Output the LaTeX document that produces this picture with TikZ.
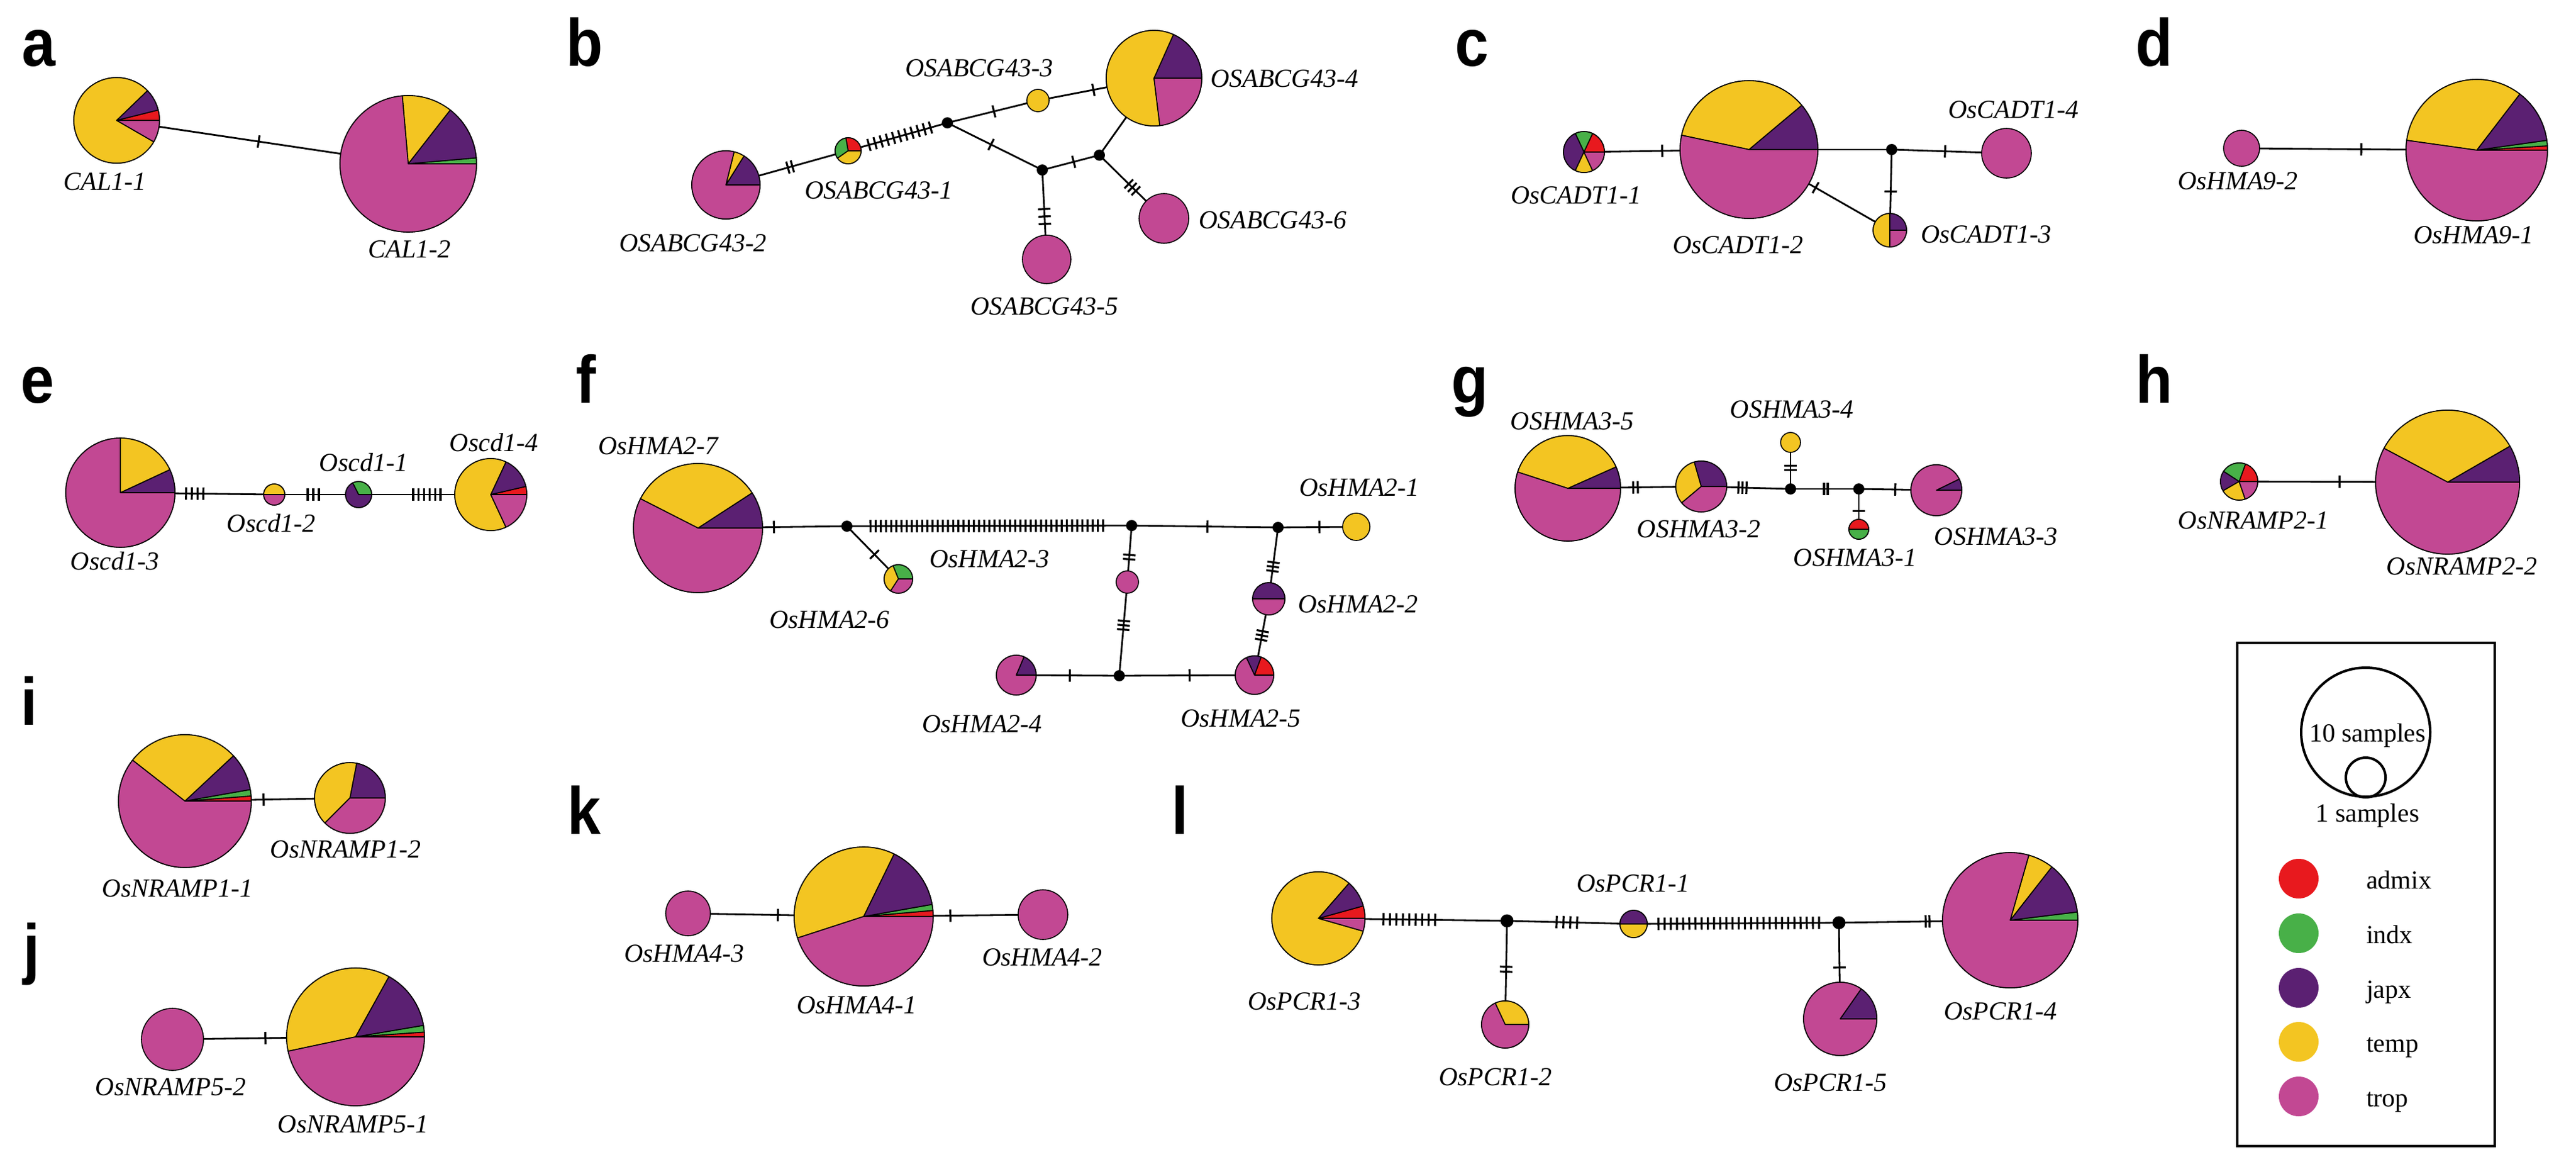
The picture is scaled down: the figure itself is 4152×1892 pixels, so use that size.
\documentclass[tikz,border=0pt]{standalone}
\usepackage{fontspec}
\setmainfont{Liberation Serif}
\newfontfamily\panelfont[FakeStretch=0.9]{Liberation Sans}
\usetikzlibrary{decorations.markings}
\definecolor{admixC}{HTML}{E8191E}
\definecolor{indxC}{HTML}{48B048}
\definecolor{japxC}{HTML}{5B2072}
\definecolor{tempC}{HTML}{F3C522}
\definecolor{tropC}{HTML}{C24893}
\pgfdeclarelayer{bg}
\pgfdeclarelayer{edges}
\pgfsetlayers{bg,edges,main}
\tikzset{
  hap/.style={circle, draw=black, line width=1.6pt, inner sep=0pt, minimum size=#1},
  jn/.style={circle, fill=black, inner sep=0pt, minimum size=18pt},
  edge/.style={line width=2.8pt},
  mk/.style={postaction={decorate, decoration={markings, mark=at position #1 with {\fill (-1.6pt,-10pt) rectangle (1.6pt,10pt);}}}},
  mks/.style n args={3}{postaction={decorate, decoration={markings, mark=between positions #1 and #2 step #3 with {\fill (-1.6pt,-10pt) rectangle (1.6pt,10pt);}}}},
  lab/.style={inner sep=0pt, anchor=base, font=\fontsize{42}{50}\selectfont\itshape},
  leg/.style={inner sep=0pt, anchor=base, font=\fontsize{42}{50}\selectfont},
  plab/.style={inner sep=0pt, anchor=base west, font=\panelfont\bfseries\fontsize{108}{120}\selectfont},
  legdot/.style={circle, inner sep=0pt, minimum size=64pt, fill=#1},
}
\newcommand\hpie[3]{\foreach \angA/\angB/\colr in {#3}{\filldraw[fill=\colr, draw=black, line width=1.6pt, line join=round] (#1.center) -- ++(\angA:#2pt) arc[start angle=\angA, end angle=\angB, radius=#2pt] -- cycle;}}
\begin{document}
\begin{tikzpicture}[x=1pt,y=-1pt]
\begin{pgfonlayer}{bg}
\fill[white] (0,0) rectangle (4152,1892);
\end{pgfonlayer}
\useasboundingbox (0,0) rectangle (4152,1892);

% panel letters
\node[plab] (pa) at (35,107) {a};
\node[plab] (pb) at (912,107) {b};
\node[plab] (pc) at (2345,107) {c};
\node[plab] (pd) at (3442,107) {d};
\node[plab] (pe) at (33,649) {e};
\node[plab] (pf) at (928,649) {f};
\node[plab] (pg) at (2339,649) {g};
\node[plab] (ph) at (3442,649) {h};
\node[plab] (pi) at (33,1168) {i};
\node[plab] (pj) at (37,1565) {j};
\node[plab] (pk) at (914,1344) {k};
\node[plab] (pl) at (1888,1344) {l};

% ---------- a
\node[hap=138pt] (a1) at (188,194) {};
\hpie{a1}{69}{0/14/admixC,14/44/japxC,44/330/tempC,330/360/tropC}
\node[hap=220pt] (a2) at (658,264) {};
\hpie{a2}{110}{0/5/indxC,5/52/japxC,52/95/tempC,95/360/tropC}
\node[lab] (a1l) at (169,306) {CAL1-1};
\node[lab] (a2l) at (660,415) {CAL1-2};

% ---------- b
\node[hap=110pt] (b2) at (1170,298) {};
\hpie{b2}{55}{0/58/japxC,58/76/tempC,76/360/tropC}
\node[hap=42pt] (b1) at (1367,243) {};
\hpie{b1}{21}{0/100/admixC,100/215/indxC,215/360/tempC}
\node[hap=36pt, fill=tempC] (b3) at (1673,162) {};
\node[hap=154pt] (b4) at (1860,126) {};
\hpie{b4}{77}{0/66/japxC,66/277/tempC,277/360/tropC}
\node[jn] (bj1) at (1527,198) {};
\node[jn] (bj2) at (1680,274) {};
\node[jn] (bj3) at (1772,250) {};
\node[hap=78pt, fill=tropC] (b5) at (1687,418) {};
\node[hap=80pt, fill=tropC] (b6) at (1876,352) {};
\node[lab] (b3l) at (1578,124) {OSABCG43-3};
\node[lab, anchor=base west] (b4l) at (1951,141) {OSABCG43-4};
\node[lab] (b1l) at (1416,320) {OSABCG43-1};
\node[lab] (b2l) at (1117,405) {OSABCG43-2};
\node[lab] (b5l) at (1683,507) {OSABCG43-5};
\node[lab, anchor=base west] (b6l) at (1932,368) {OSABCG43-6};

% ---------- c
\node[hap=66pt] (c1) at (2553,245) {};
\hpie{c1}{33}{0/65/admixC,65/115/indxC,115/245/japxC,245/295/tempC,295/360/tropC}
\node[hap=222pt] (c2) at (2819,241) {};
\hpie{c2}{111}{0/40/japxC,40/168/tempC,168/360/tropC}
\node[jn] (cj) at (3049,241) {};
\node[hap=80pt, fill=tropC] (c4) at (3234,247) {};
\node[hap=54pt] (c3) at (3046,371) {};
\hpie{c3}{27}{0/90/japxC,90/270/tempC,270/360/tropC}
\node[lab] (c1l) at (2540,328) {OsCADT1-1};
\node[lab] (c2l) at (2801,408) {OsCADT1-2};
\node[lab] (c4l) at (3245,190) {OsCADT1-4};
\node[lab, anchor=base west] (c3l) at (3096,391) {OsCADT1-3};

% ---------- d
\node[hap=58pt, fill=tropC] (d2) at (3613,239) {};
\node[hap=228pt] (d1) at (3992,242) {};
\hpie{d1}{114}{0/3.5/admixC,3.5/8/indxC,8/52.5/japxC,52.5/172/tempC,172/360/tropC}
\node[lab] (d2l) at (3607,305) {OsHMA9-2};
\node[lab] (d1l) at (3987,392) {OsHMA9-1};

% ---------- e
\node[hap=176pt] (e3) at (194,794) {};
\hpie{e3}{88}{0/25/japxC,25/90/tempC,90/360/tropC}
\node[hap=34pt] (e2) at (442,797) {};
\hpie{e2}{17}{0/180/tempC,180/360/tropC}
\node[hap=42pt] (e1) at (578,797) {};
\hpie{e1}{21}{0/117/indxC,117/360/japxC}
\node[hap=116pt] (e4) at (791,797) {};
\hpie{e4}{58}{0/13/admixC,13/65/japxC,65/295/tempC,295/360/tropC}
\node[lab] (e3l) at (185,918) {Oscd1-3};
\node[lab] (e2l) at (437,857) {Oscd1-2};
\node[lab] (e1l) at (586,759) {Oscd1-1};
\node[lab] (e4l) at (796,727) {Oscd1-4};

% ---------- f
\node[hap=208pt] (f7) at (1125,851) {};
\hpie{f7}{104}{0/33/japxC,33/153/tempC,153/360/tropC}
\node[jn] (fj1) at (1365,848) {};
\node[hap=46pt] (f6) at (1448,933) {};
\hpie{f6}{23}{0/112/indxC,112/237/tempC,237/360/tropC}
\node[jn] (fj2) at (1824,847) {};
\node[jn] (fj3) at (2060,850) {};
\node[hap=44pt, fill=tempC] (f1) at (2186,849) {};
\node[hap=36pt, fill=tropC] (f3) at (1817,938) {};
\node[hap=52pt] (f2) at (2045,965) {};
\hpie{f2}{26}{0/180/japxC,180/360/tropC}
\node[jn] (fj4) at (1804,1089) {};
\node[hap=64pt] (f4) at (1638,1088) {};
\hpie{f4}{32}{0/67/japxC,67/360/tropC}
\node[hap=62pt] (f5) at (2022,1088) {};
\hpie{f5}{31}{0/70/admixC,70/115/japxC,115/360/tropC}
\node[lab] (f7l) at (1061,732) {OsHMA2-7};
\node[lab] (f6l) at (1337,1012) {OsHMA2-6};
\node[lab] (f3l) at (1595,914) {OsHMA2-3};
\node[lab] (f1l) at (2191,799) {OsHMA2-1};
\node[lab, anchor=base west] (f2l) at (2092,987) {OsHMA2-2};
\node[lab] (f4l) at (1583,1180) {OsHMA2-4};
\node[lab] (f5l) at (2000,1171) {OsHMA2-5};

% ---------- g
\node[hap=170pt] (g5) at (2527,787) {};
\hpie{g5}{85}{0/24/japxC,24/162/tempC,162/360/tropC}
\node[hap=82pt] (g2) at (2742,784) {};
\hpie{g2}{41}{0/106/japxC,106/220/tempC,220/360/tropC}
\node[jn] (gj1) at (2886,788) {};
\node[jn] (gj2) at (2996,788) {};
\node[hap=32pt, fill=tempC] (g4) at (2886,713) {};
\node[hap=32pt] (g1) at (2996,853) {};
\hpie{g1}{16}{0/180/admixC,180/360/indxC}
\node[hap=82pt] (g3) at (3121,790) {};
\hpie{g3}{41}{0/26/japxC,26/360/tropC}
\node[lab] (g5l) at (2534,692) {OSHMA3-5};
\node[lab] (g4l) at (2888,673) {OSHMA3-4};
\node[lab] (g2l) at (2738,866) {OSHMA3-2};
\node[lab] (g1l) at (2990,912) {OSHMA3-1};
\node[lab] (g3l) at (3217,878) {OSHMA3-3};

% ---------- h
\node[hap=60pt] (h1) at (3609,776) {};
\hpie{h1}{30}{0/70/admixC,70/147/indxC,147/210/japxC,210/289/tempC,289/360/tropC}
\node[hap=232pt] (h2) at (3945,777) {};
\hpie{h2}{116}{0/30/japxC,30/152/tempC,152/360/tropC}
\node[lab] (h1l) at (3632,852) {OsNRAMP2-1};
\node[lab] (h2l) at (3968,926) {OsNRAMP2-2};

% ---------- i
\node[hap=214pt] (i1) at (298,1291) {};
\hpie{i1}{107}{0/4.4/admixC,4.4/10/indxC,10/43/japxC,43/142/tempC,142/360/tropC}
\node[hap=114pt] (i2) at (564,1286) {};
\hpie{i2}{57}{0/79/japxC,79/225/tempC,225/360/tropC}
\node[lab] (i1l) at (286,1445) {OsNRAMP1-1};
\node[lab] (i2l) at (557,1382) {OsNRAMP1-2};

% ---------- j
\node[hap=100pt, fill=tropC] (j2) at (278,1675) {};
\node[hap=222pt] (j1) at (573,1671) {};
\hpie{j1}{111}{0/4/admixC,4/9.6/indxC,9.6/61/japxC,61/192/tempC,192/360/tropC}
\node[lab] (j2l) at (275,1765) {OsNRAMP5-2};
\node[lab] (j1l) at (569,1825) {OsNRAMP5-1};

% ---------- k
\node[hap=72pt, fill=tropC] (k3) at (1109,1472) {};
\node[hap=224pt] (k1) at (1392,1477) {};
\hpie{k1}{112}{0/5/admixC,5/10/indxC,10/64/japxC,64/198/tempC,198/360/tropC}
\node[hap=80pt, fill=tropC] (k2) at (1681,1474) {};
\node[lab] (k3l) at (1103,1550) {OsHMA4-3};
\node[lab] (k1l) at (1381,1633) {OsHMA4-1};
\node[lab] (k2l) at (1680,1556) {OsHMA4-2};

% ---------- l
\node[hap=150pt] (l3) at (2125,1480) {};
\hpie{l3}{75}{0/15.5/admixC,15.5/49/japxC,49/344/tempC,344/360/tropC}
\node[jn, minimum size=21pt] (lj1) at (2429,1484) {};
\node[hap=44pt] (l1) at (2633,1489) {};
\hpie{l1}{22}{0/180/japxC,180/360/tempC}
\node[jn, minimum size=21pt] (lj2) at (2964,1487) {};
\node[hap=218pt] (l4) at (3240,1483) {};
\hpie{l4}{109}{0/7/indxC,7/52/japxC,52/74/tempC,74/360/tropC}
\node[hap=76pt] (l2) at (2426,1651) {};
\hpie{l2}{38}{0/115/tempC,115/360/tropC}
\node[hap=118pt] (l5) at (2966,1642) {};
\hpie{l5}{59}{0/55/japxC,55/360/tropC}
\node[lab] (l1l) at (2632,1437) {OsPCR1-1};
\node[lab] (l3l) at (2102,1627) {OsPCR1-3};
\node[lab] (l2l) at (2410,1749) {OsPCR1-2};
\node[lab] (l5l) at (2950,1758) {OsPCR1-5};
\node[lab] (l4l) at (3224,1643) {OsPCR1-4};

% ---------- legend
\draw[line width=4pt] (3606,1036) rectangle (4021,1847);
\node[circle, draw, line width=4pt, inner sep=0pt, minimum size=208pt] (lgbig) at (3813,1180) {};
\node[circle, draw, line width=4pt, inner sep=0pt, minimum size=64pt] (lgsmall) at (3813,1253) {};
\node[leg] (lg10) at (3816,1195) {10 samples};
\node[leg] (lg1) at (3816,1324) {1 samples};
\node[legdot=admixC] (lgd1) at (3705,1416) {};
\node[legdot=indxC] (lgd2) at (3705,1504) {};
\node[legdot=japxC] (lgd3) at (3705,1592) {};
\node[legdot=tempC] (lgd4) at (3705,1679) {};
\node[legdot=tropC] (lgd5) at (3705,1767) {};
\node[leg, anchor=base west] (lgt1) at (3814,1432) {admix};
\node[leg, anchor=base west] (lgt2) at (3814,1520) {indx};
\node[leg, anchor=base west] (lgt3) at (3814,1608) {japx};
\node[leg, anchor=base west] (lgt4) at (3814,1695) {temp};
\node[leg, anchor=base west] (lgt5) at (3814,1783) {trop};

% ---------- connectors
\begin{pgfonlayer}{edges}
\draw[edge, mk=0.487] (a1.center) -- (a2.center);
\draw[edge, mks={0.507}{0.562}{7.5pt}] (b2.center) -- (b1.center);
\draw[edge, mks={0.21}{0.861}{10.3pt}] (b1.center) -- (bj1.center);
\draw[edge, mk=0.514] (bj1.center) -- (b3.center);
\draw[edge, mk=0.478] (b3.center) -- (b4.center);
\draw[edge, mk=0.46] (bj1.center) -- (bj2.center);
\draw[edge, mk=0.55] (bj2.center) -- (bj3.center);
\draw[edge] (bj3.center) -- (b4.center);
\draw[edge, mks={0.437}{0.645}{12pt}] (bj2.center) -- (b5.center);
\draw[edge, mks={0.455}{0.592}{8pt}] (bj3.center) -- (b6.center);
\draw[edge, mk=0.474] (c1.center) -- (c2.center);
\draw[edge] (c2.center) -- (cj.center);
\draw[edge, mk=0.465] (cj.center) -- (c4.center);
\draw[edge, mk=0.52] (cj.center) -- (c3.center);
\draw[edge, mk=0.473] (c2.center) -- (c3.center);
\draw[edge, mk=0.509] (d2.center) -- (d1.center);
\draw[edge, mks={0.427}{0.558}{9.3pt}] (e3.center) -- (e2.center);
\draw[edge, mks={0.397}{0.562}{9pt}] (e2.center) -- (e1.center);
\draw[edge, mks={0.413}{0.64}{8.8pt}] (e1.center) -- (e4.center);
\draw[edge, mk=0.51] (f7.center) -- (fj1.center);
\draw[edge, mks={0.083}{0.909}{8.33pt}] (fj1.center) -- (fj2.center);
\draw[edge, mk=0.536] (fj1.center) -- (f6.center);
\draw[edge, mk=0.517] (fj2.center) -- (fj3.center);
\draw[edge, mk=0.53] (fj3.center) -- (f1.center);
\draw[edge, mks={0.52}{0.635}{7pt}] (fj2.center) -- (f3.center);
\draw[edge, mks={0.415}{0.53}{7pt}] (f3.center) -- (fj4.center);
\draw[edge, mks={0.49}{0.641}{7pt}] (fj3.center) -- (f2.center);
\draw[edge, mks={0.425}{0.565}{7pt}] (f2.center) -- (f5.center);
\draw[edge, mk=0.52] (f4.center) -- (fj4.center);
\draw[edge, mk=0.52] (fj4.center) -- (f5.center);
\draw[edge, mks={0.49}{0.542}{7.5pt}] (g5.center) -- (g2.center);
\draw[edge, mks={0.417}{0.53}{6.5pt}] (g2.center) -- (gj1.center);
\draw[edge, mks={0.41}{0.55}{7pt}] (gj1.center) -- (g4.center);
\draw[edge, mks={0.49}{0.572}{6pt}] (gj1.center) -- (gj2.center);
\draw[edge, mk=0.47] (gj2.center) -- (g3.center);
\draw[edge, mk=0.54] (gj2.center) -- (g1.center);
\draw[edge, mk=0.482] (h1.center) -- (h2.center);
\draw[edge, mk=0.477] (i1.center) -- (i2.center);
\draw[edge, mk=0.508] (j2.center) -- (j1.center);
\draw[edge, mk=0.512] (k3.center) -- (k1.center);
\draw[edge, mk=0.484] (k1.center) -- (k2.center);
\draw[edge, mks={0.345}{0.636}{10.4pt}] (l3.center) -- (lj1.center);
\draw[edge, mks={0.392}{0.581}{11pt}] (lj1.center) -- (l1.center);
\draw[edge, mks={0.121}{0.918}{9.96pt}] (l1.center) -- (lj2.center);
\draw[edge, mks={0.507}{0.54}{6pt}] (lj2.center) -- (l4.center);
\draw[edge, mks={0.443}{0.515}{8pt}] (lj1.center) -- (l2.center);
\draw[edge, mk=0.465] (lj2.center) -- (l5.center);
\end{pgfonlayer}
\end{tikzpicture}
\end{document}
